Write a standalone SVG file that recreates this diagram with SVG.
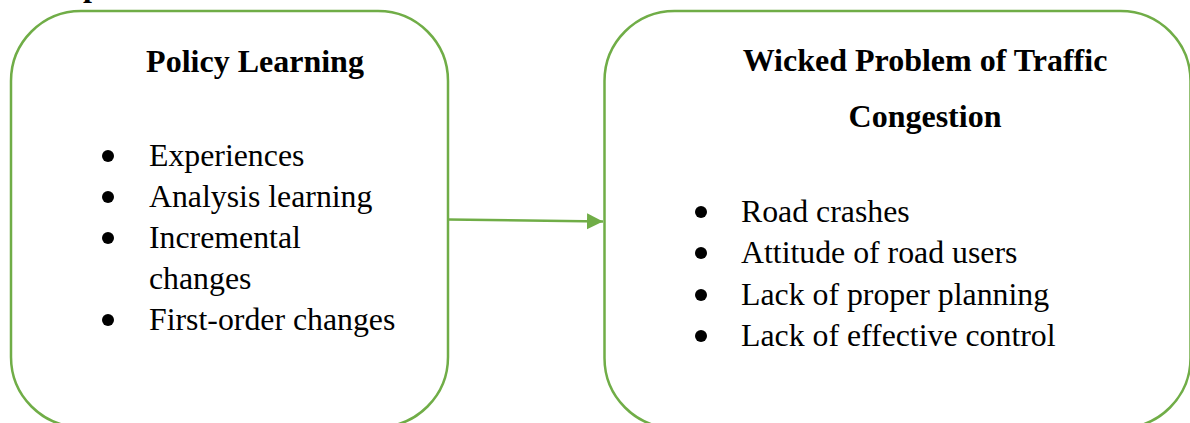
<svg xmlns="http://www.w3.org/2000/svg" width="1190" height="423" viewBox="0 0 1190 423">
<defs>
<style>
.box{fill:#ffffff;stroke:#70AD47;stroke-width:2.5}
.title{font-family:"Liberation Serif","Times New Roman",serif;font-size:32px;font-weight:bold;fill:#000;text-anchor:middle}
.item{font-family:"Liberation Serif","Times New Roman",serif;font-size:31.8px;fill:#000}
.bul{fill:#000}
.conn{stroke:#70AD47;stroke-width:2.5;fill:none}
</style>
<marker id="arrow" markerUnits="userSpaceOnUse" markerWidth="18" markerHeight="18" refX="16" refY="8" orient="auto">
<polygon points="0,0 16,8 0,16" fill="#70AD47"/>
</marker>
</defs>
<rect width="1190" height="423" fill="#ffffff"/>
<text x="83" y="-4" class="title" style="text-anchor:start">p</text>
<g id="policy-learning">
<rect class="box" x="11" y="11" width="437" height="416" rx="70" ry="70"/>
<text class="title" x="255" y="72">Policy Learning</text>
<circle class="bul" cx="108" cy="156" r="6"/>
<text class="item" x="149" y="166">Experiences</text>
<circle class="bul" cx="108" cy="197" r="6"/>
<text class="item" x="149" y="207">Analysis learning</text>
<circle class="bul" cx="108" cy="238" r="6"/>
<text class="item" x="149" y="248">Incremental</text>
<text class="item" x="149" y="289">changes</text>
<circle class="bul" cx="108" cy="320" r="6"/>
<text class="item" x="149" y="330">First-order changes</text>
</g>
<g id="wicked-problem">
<rect class="box" x="604.5" y="11" width="586" height="417" rx="70" ry="70"/>
<text class="title" x="925" y="71">Wicked Problem of Traffic</text>
<text class="title" x="925" y="127">Congestion</text>
<circle class="bul" cx="701" cy="212" r="6"/>
<text class="item" x="741" y="222">Road crashes</text>
<circle class="bul" cx="701" cy="253" r="6"/>
<text class="item" x="741" y="263">Attitude of road users</text>
<circle class="bul" cx="701" cy="295" r="6"/>
<text class="item" x="741" y="305">Lack of proper planning</text>
<circle class="bul" cx="701" cy="336" r="6"/>
<text class="item" x="741" y="346">Lack of effective control</text>
</g>
<g id="connectors">
<line class="conn" x1="448" y1="219.5" x2="603" y2="221.5" marker-end="url(#arrow)"/>
</g>
</svg>
